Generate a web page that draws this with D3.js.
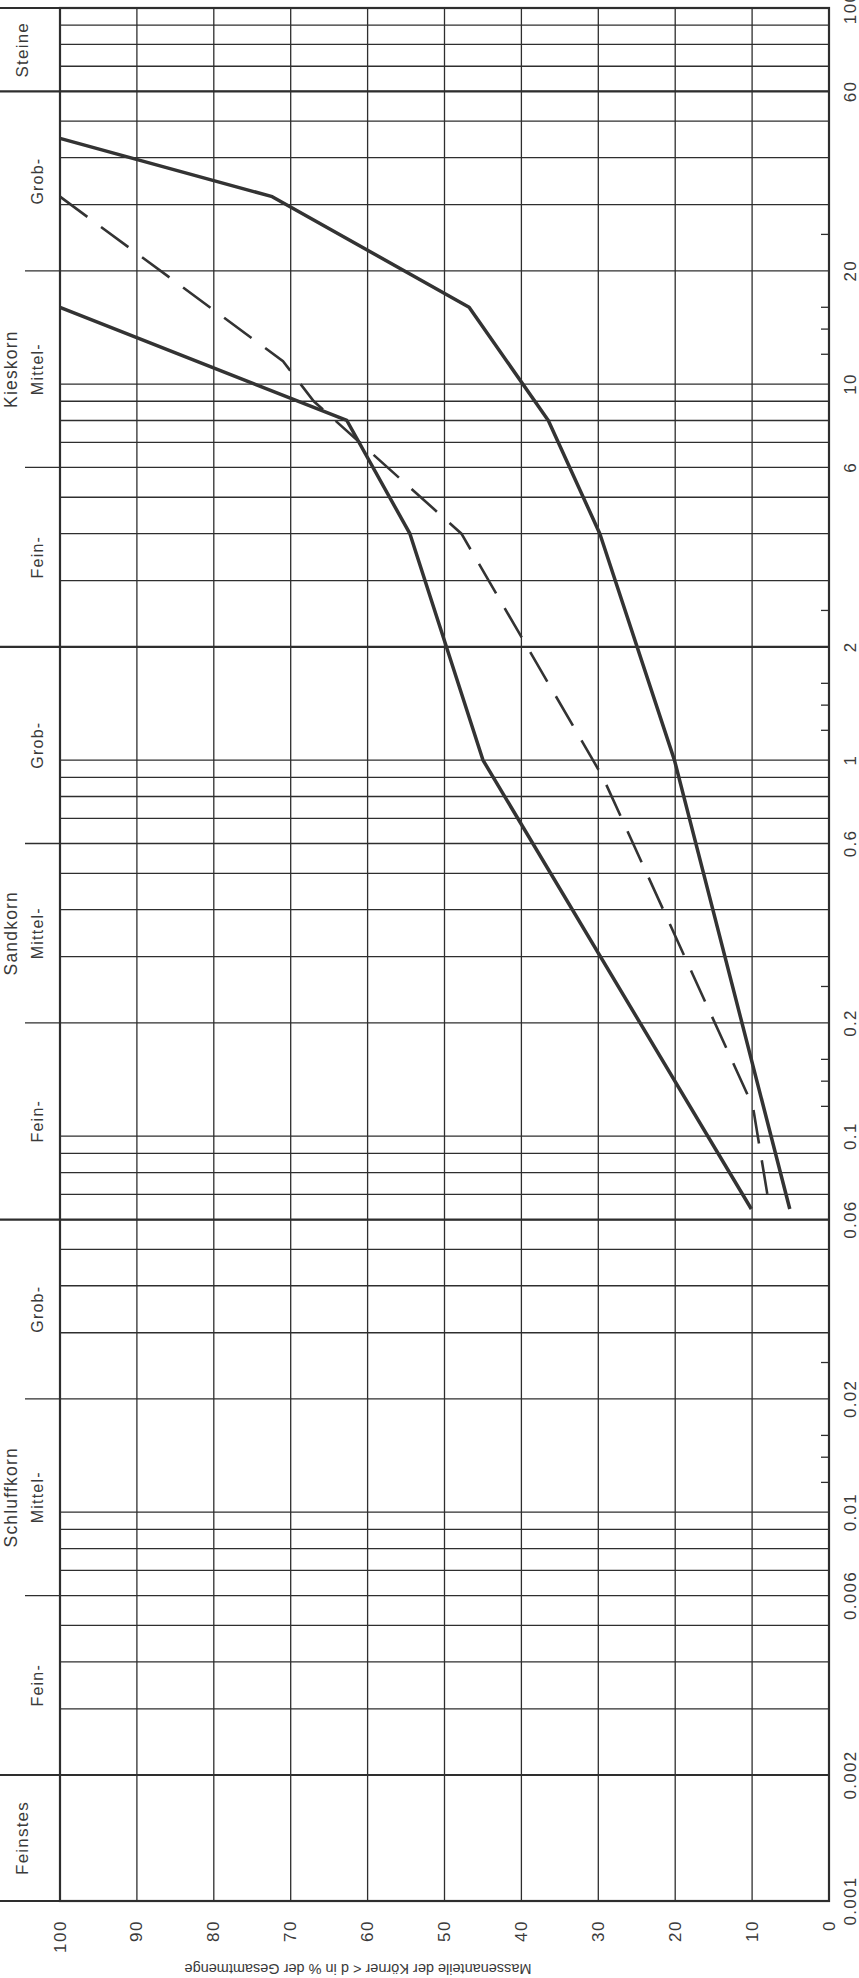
<!DOCTYPE html>
<head>
    <title>Koernungslinie</title>
    <meta charset='utf-8'>
    <script type='text/javascript' src='https://d3js.org/d3.v7.min.js'></script>
    <style>
        body { margin: 0; background: #fff; }
        text { font-family: 'Liberation Sans', Arial, sans-serif; fill: #3a3a3a; }
    </style>
</head>
<body>
    <div id='chart'></div>
    <script>
    //----------------------------- DATA -------------------------//
    // grain size d in mm (vertical, log) and passing percent (horizontal, reversed)
    var percentTicks = [0, 10, 20, 30, 40, 50, 60, 70, 80, 90, 100];
    var sizeLabels = ['0.001', '0.002', '0.006', '0.01', '0.02', '0.06', '0.1', '0.2', '0.6', '1', '2', '6', '10', '20', '60', '100'];
    var mainBounds = [0.002, 0.06, 2, 60];
    var subBounds = [0.006, 0.02, 0.2, 0.6, 6, 20];
    var shortTicks = [0.012, 0.014, 0.016, 0.025, 0.12, 0.14, 0.16, 0.25, 1.2, 1.4, 1.6, 2.5, 12, 14, 16, 25];

    // soil classes: [from, to, name]
    var singleBands = [[0.001, 0.002, 'Feinstes'], [60, 100, 'Steine']];
    var groupBands = [[0.006, 0.02, 'Schluffkorn'], [0.2, 0.6, 'Sandkorn'], [6, 20, 'Kieskorn']];
    var subBands = [
        [0.002, 0.006, 'Fein-'], [0.006, 0.02, 'Mittel-'], [0.02, 0.06, 'Grob-'],
        [0.06, 0.2, 'Fein-'], [0.2, 0.6, 'Mittel-'], [0.6, 2, 'Grob-'],
        [2, 6, 'Fein-'], [6, 20, 'Mittel-'], [20, 60, 'Grob-']
    ];

    // curves: [d in mm, percent]
    var coarseCurve = [[45, 100], [31.5, 72.4], [16, 46.8], [8, 36.5], [4, 29.8], [1, 20.1], [0.064, 5.1]];
    var fineCurve = [[16, 100], [8, 62.7], [4, 54.5], [1, 45], [0.064, 10.1]];
    var dashedCurve = [[31.5, 100], [11.5, 71], [9, 67], [4, 47.8], [0.9, 29.4], [0.12, 9.9], [0.064, 7.7]];

    var axisTitle = 'Massenanteile der Körner < d in % der Gesamtmenge';

    //----------------------------- SVG -------------------------//
    var width = 859, height = 1978;
    var svg = d3.select('#chart').append('svg')
        .attr('width', width)
        .attr('height', height);

    var x = d3.scaleLinear().domain([0, 100]).range([829, 60]);
    // the Feinstes band of the form is drawn a little taller than one log octave
    var y = d3.scaleLog().domain([0.001, 0.002, 100]).range([1901, 1775, 8]);

    // all 1..9 lines of every decade
    var gridSizes = [];
    [0.001, 0.01, 0.1, 1, 10].forEach(function (dec) {
        for (var k = 1; k <= 9; k++) gridSizes.push(+(dec * k).toPrecision(3));
    });
    gridSizes.push(100);

    var lineColor = '#2e2e2e';

    // horizontal grid
    svg.append('g')
        .selectAll('line')
        .data(gridSizes)
        .enter().append('line')
        .attr('x1', x(100)).attr('x2', x(0))
        .attr('y1', function (d) { return y(d); })
        .attr('y2', function (d) { return y(d); })
        .attr('stroke', lineColor)
        .attr('stroke-width', 1.3);

    // vertical grid
    svg.append('g')
        .selectAll('line')
        .data(percentTicks)
        .enter().append('line')
        .attr('x1', function (d) { return x(d); })
        .attr('x2', function (d) { return x(d); })
        .attr('y1', y(100)).attr('y2', y(0.001))
        .attr('stroke', lineColor)
        .attr('stroke-width', 1.3);

    // class boundaries reaching into the label column
    svg.append('g')
        .selectAll('line')
        .data(mainBounds.concat([0.001, 100]))
        .enter().append('line')
        .attr('x1', 0).attr('x2', x(0))
        .attr('y1', function (d) { return y(d); })
        .attr('y2', function (d) { return y(d); })
        .attr('stroke', lineColor)
        .attr('stroke-width', 2.2);

    svg.append('g')
        .selectAll('line')
        .data(subBounds)
        .enter().append('line')
        .attr('x1', 25).attr('x2', x(100))
        .attr('y1', function (d) { return y(d); })
        .attr('y2', function (d) { return y(d); })
        .attr('stroke', lineColor)
        .attr('stroke-width', 1.3);

    // frame
    svg.append('rect')
        .attr('x', x(100)).attr('y', y(100))
        .attr('width', x(0) - x(100)).attr('height', y(0.001) - y(100))
        .attr('fill', 'none')
        .attr('stroke', lineColor)
        .attr('stroke-width', 2.2);

    // short ticks on the right edge
    svg.append('g')
        .selectAll('line')
        .data(shortTicks)
        .enter().append('line')
        .attr('x1', x(0) - 8).attr('x2', x(0))
        .attr('y1', function (d) { return y(d); })
        .attr('y2', function (d) { return y(d); })
        .attr('stroke', lineColor)
        .attr('stroke-width', 1.3);

    // grain size labels (rotated)
    svg.append('g')
        .selectAll('text')
        .data(sizeLabels)
        .enter().append('text')
        .attr('transform', function (d) { return 'translate(850,' + y(+d) + ') rotate(-90)'; })
        .attr('text-anchor', 'middle')
        .attr('dominant-baseline', 'central')
        .style('font-size', '17px')
        .style('letter-spacing', '1.3px')
        .text(function (d) { return d; });

    // percent labels
    svg.append('g')
        .selectAll('text')
        .data(percentTicks)
        .enter().append('text')
        .attr('transform', function (d) { return 'translate(' + x(d) + ',1920) rotate(-90)'; })
        .attr('text-anchor', 'end')
        .attr('dominant-baseline', 'central')
        .style('font-size', '17px')
        .style('letter-spacing', '1.5px')
        .text(function (d) { return d; });

    svg.append('text')
        .attr('transform', 'translate(358,1969) rotate(180)')
        .attr('text-anchor', 'middle')
        .attr('dominant-baseline', 'central')
        .style('font-size', '14.5px')
        .text(axisTitle);

    // class labels
    function bandMid(b) { return Math.sqrt(b[0] * b[1]); }
    function bandLabels(data, cx, size) {
        svg.append('g')
            .selectAll('text')
            .data(data)
            .enter().append('text')
            .attr('transform', function (d) { return 'translate(' + cx + ',' + y(bandMid(d)) + ') rotate(-90)'; })
            .attr('text-anchor', 'middle')
            .attr('dominant-baseline', 'central')
            .style('font-size', size)
            .style('letter-spacing', '1.2px')
            .text(function (d) { return d[2]; });
    }
    bandLabels(singleBands, 22, '17px');
    bandLabels(groupBands, 11, '17.5px');
    bandLabels(subBands, 37, '16px');

    // curves
    var line = d3.line()
        .x(function (d) { return x(d[1]); })
        .y(function (d) { return y(d[0]); });

    svg.append('path')
        .datum(coarseCurve)
        .attr('d', line)
        .attr('fill', 'none')
        .attr('stroke', '#333')
        .attr('stroke-width', 3.5)
        .attr('stroke-linejoin', 'round');

    svg.append('path')
        .datum(fineCurve)
        .attr('d', line)
        .attr('fill', 'none')
        .attr('stroke', '#333')
        .attr('stroke-width', 3.5)
        .attr('stroke-linejoin', 'round');

    svg.append('path')
        .datum(dashedCurve)
        .attr('d', line)
        .attr('fill', 'none')
        .attr('stroke', '#333')
        .attr('stroke-width', 2.6)
        .attr('stroke-dasharray', '34,17');
    </script>
</body>
</html>
